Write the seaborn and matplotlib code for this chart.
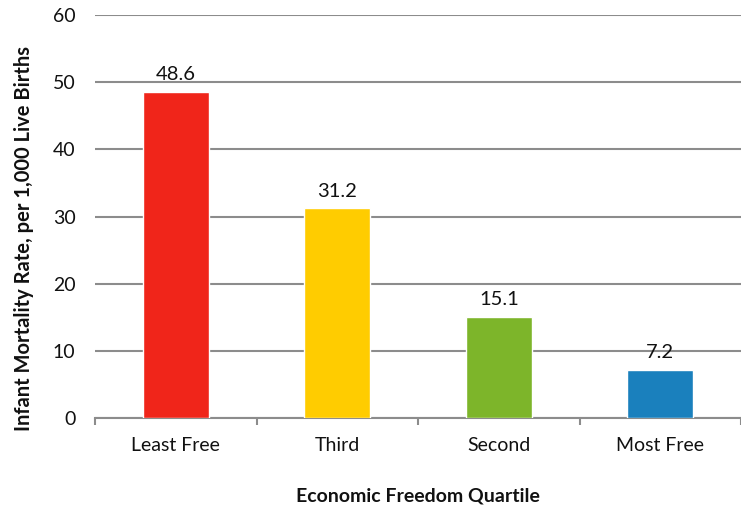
import matplotlib
matplotlib.use("Agg")
import matplotlib.pyplot as plt
import seaborn as sns
import pandas as pd
import numpy as np

categories = ["Least Free", "Third", "Second", "Most Free"]
values = [48.6, 31.2, 15.1, 7.2]
colors = ["#F0251A", "#FFCC00", "#7DB52A", "#1A80BD"]
yticks = [0, 10, 20, 30, 40, 50, 60]

sns.set_theme(style="white")
plt.rcParams['font.family'] = ['Lato', 'DejaVu Sans']

df = pd.DataFrame({"cat": categories, "val": values})

fig = plt.figure(figsize=(7.41, 5.12), dpi=100)
ax = fig.add_axes([95/741, 1 - 418/512, 1 - 95/741, (418 - 15)/512])

sns.barplot(data=df, x="cat", y="val", hue="cat", palette=colors, legend=False,
            width=0.41, ax=ax, saturation=1, zorder=3)

ax.set_ylim(0, 60)
ax.set_xlim(-0.5, 3.5)
ax.set_yticks(yticks)
ax.yaxis.grid(True, color="#8C8C8C", linewidth=1.5, zorder=0)
ax.set_axisbelow(True)

for s in ["top", "right", "left"]:
    ax.spines[s].set_visible(False)
ax.spines["bottom"].set_color("#8C8C8C")
ax.spines["bottom"].set_linewidth(1.5)

ax.tick_params(axis="y", length=0, labelsize=14, pad=14, colors="#111111")
ax.tick_params(axis="x", which="major", length=0, labelsize=14, pad=14, colors="#111111")
ax.set_xticks(np.arange(-0.5, 4, 1), minor=True)
ax.tick_params(axis="x", which="minor", length=5, width=1.5, color="#8C8C8C", bottom=True)

for i, v in enumerate(values):
    ax.text(i, v + 1.3, f"{v}", ha="center", va="bottom", fontsize=14.5, color="#111111")

ax.set_xlabel("Economic Freedom Quartile", fontsize=14, fontweight="bold", labelpad=24, color="#111111")
ax.set_ylabel("Infant Mortality Rate, per 1,000 Live Births", fontsize=14.5, fontweight="bold", color="#111111")
ax.yaxis.set_label_coords(-0.095, 0.445)

fig.savefig("out.png", dpi=100)
